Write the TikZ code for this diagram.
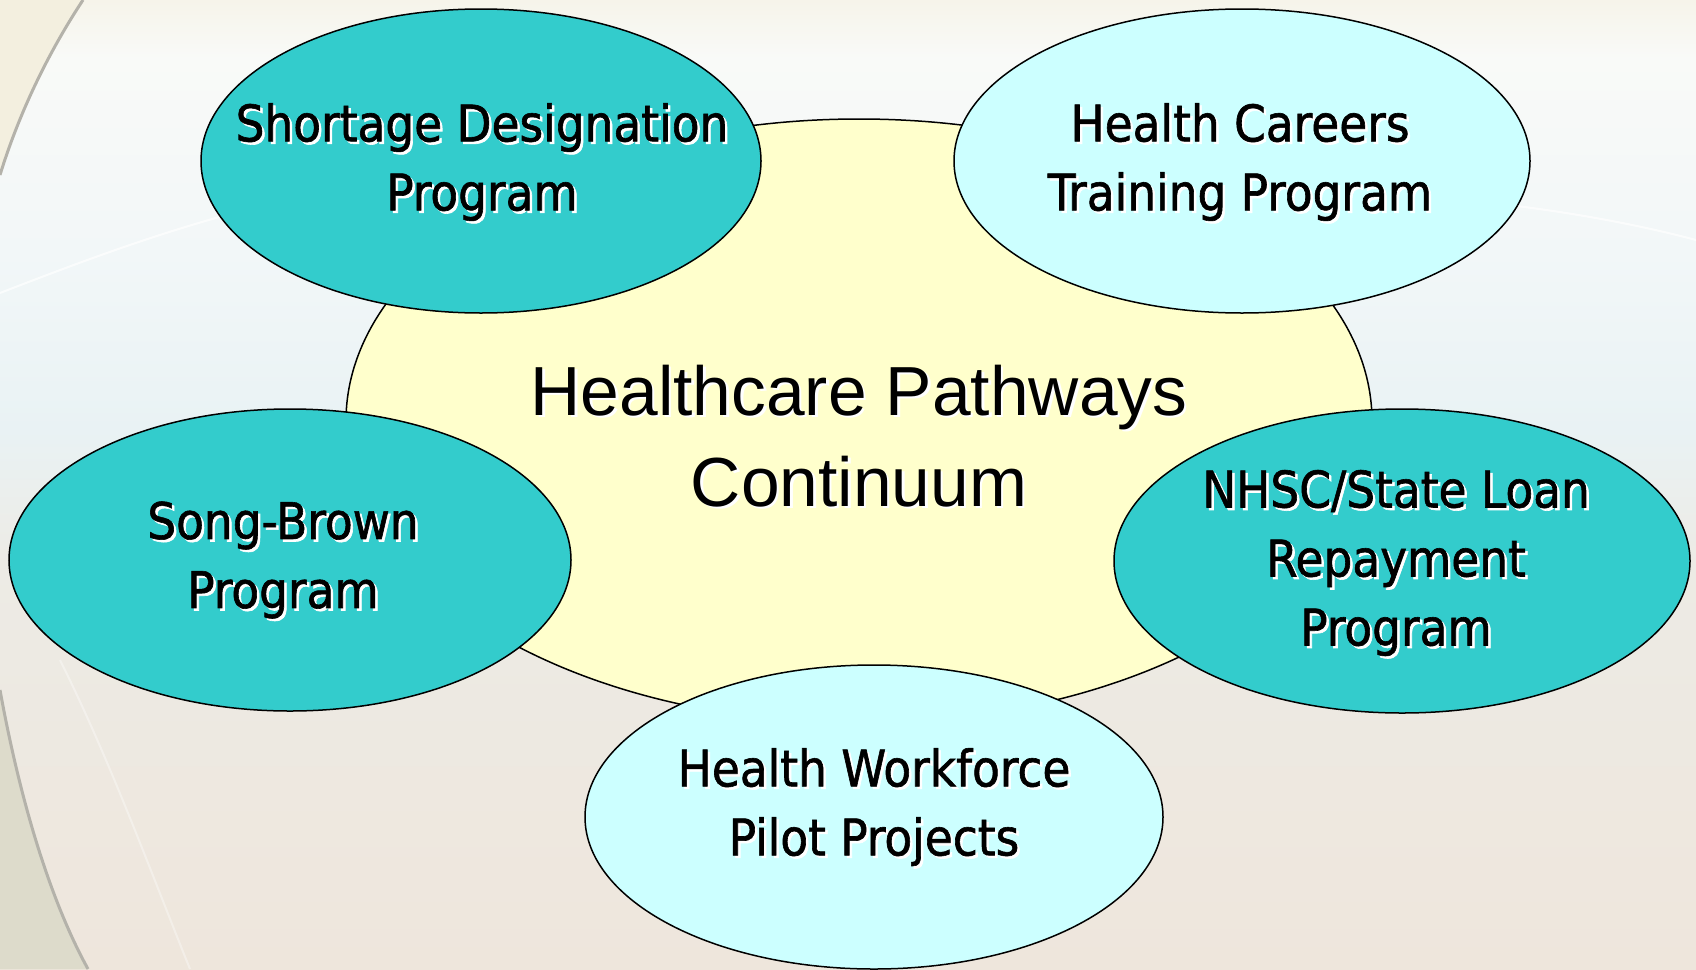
\documentclass[tikz,border=0pt]{standalone}
\usepackage{fontspec}
\usetikzlibrary{shapes.geometric}
\newfontfamily\tahfont[FakeBold=1.2]{DejaVu Sans Condensed}
\newfontfamily\arialfont{Liberation Sans}
\definecolor{teal1}{HTML}{33CCCC}
\definecolor{cyan1}{HTML}{CCFFFF}
\definecolor{yel1}{HTML}{FFFFCC}
\definecolor{bgA}{HTML}{EEE6DC}
\definecolor{bgB}{HTML}{EDEBE5}
\definecolor{bgC}{HTML}{E9F2F4}
\definecolor{bgD}{HTML}{F2F7F8}
\definecolor{bgE}{HTML}{F9FAF8}
\definecolor{bgF}{HTML}{F6F4EA}
\definecolor{arcgrey}{HTML}{B4B2AA}
\definecolor{cornertop}{HTML}{F3EFDF}
\definecolor{cornerbot}{HTML}{DDDBCB}
\pgfdeclareverticalshading{bgshade}{100bp}{color(0bp)=(bgA); color(25bp)=(bgA); color(46bp)=(bgB); color(52.8bp)=(bgC); color(62bp)=(bgD); color(72bp)=(bgE); color(75bp)=(bgF); color(100bp)=(bgF)}
\tikzset{
  blob/.style={ellipse, draw=black, line width=1.5pt, inner sep=0pt},
  smalltxt/.style={align=center, font=\tahfont\fontsize{50.5}{69}\selectfont, inner sep=0pt},
  bigtxt/.style={align=center, font=\arialfont\fontsize{69.5}{91}\selectfont, inner sep=0pt},
  shad/.style={text=white, xshift=2.5pt, yshift=-2.5pt}
}
\begin{document}
\begin{tikzpicture}[x=1pt,y=-1pt]
\useasboundingbox (0,0) rectangle (1696,969);
% background
\shade[shading=bgshade] (0,0) rectangle (1696,969);
\fill[cornertop] (0,0) -- (83,0) .. controls (50,50) and (20,110) .. (0,175) -- cycle;
\fill[cornerbot] (0,690) .. controls (20,800) and (50,900) .. (88,969) -- (0,969) -- cycle;
\draw[arcgrey, line width=3pt] (83,0) .. controls (50,50) and (20,110) .. (0,175);
\draw[arcgrey, line width=3pt] (0,690) .. controls (20,800) and (50,900) .. (88,969);
\draw[white, opacity=0.7, line width=2pt] (0,293) .. controls (80,262) and (150,236) .. (230,214);
\draw[white, opacity=0.7, line width=2pt] (1500,204) .. controls (1570,212) and (1640,225) .. (1696,240);
\draw[white, opacity=0.35, line width=2pt] (60,660) .. controls (110,760) and (150,870) .. (190,969);
% shapes
\node[blob, fill=yel1, minimum width=1026pt, minimum height=604pt] (hub) at (859,421) {};
\node[blob, fill=teal1, minimum width=560pt, minimum height=304pt] (sd) at (481,161) {};
\node[blob, fill=cyan1, minimum width=576pt, minimum height=304pt] (hc) at (1242,161) {};
\node[blob, fill=teal1, minimum width=562pt, minimum height=302pt] (sb) at (290,560) {};
\node[blob, fill=teal1, minimum width=576pt, minimum height=304pt] (nh) at (1402,561) {};
\node[blob, fill=cyan1, minimum width=578pt, minimum height=304pt] (hw) at (874,817) {};
% texts
\node[bigtxt, shad] (hubs) at (859,436) {Healthcare Pathways\\Continuum};
\node[bigtxt] (hubt) at (859,436) {Healthcare Pathways\\Continuum};
\node[smalltxt, shad] (sds) at (482,162) {Shortage Designation\\Program};
\node[smalltxt] (sdt) at (482,162) {Shortage Designation\\Program};
\node[smalltxt, shad] (hcs) at (1240,162) {Health Careers\\Training Program};
\node[smalltxt] (hct) at (1240,162) {Health Careers\\Training Program};
\node[smalltxt, shad] (sbs) at (283,560) {Song-Brown\\Program};
\node[smalltxt] (sbt) at (283,560) {Song-Brown\\Program};
\node[smalltxt, shad] (nhs) at (1396,563) {NHSC/State Loan\\Repayment\\Program};
\node[smalltxt] (nht) at (1396,563) {NHSC/State Loan\\Repayment\\Program};
\node[smalltxt, shad] (hws) at (874,807) {Health Workforce\\Pilot Projects};
\node[smalltxt] (hwt) at (874,807) {Health Workforce\\Pilot Projects};
\end{tikzpicture}
\end{document}
